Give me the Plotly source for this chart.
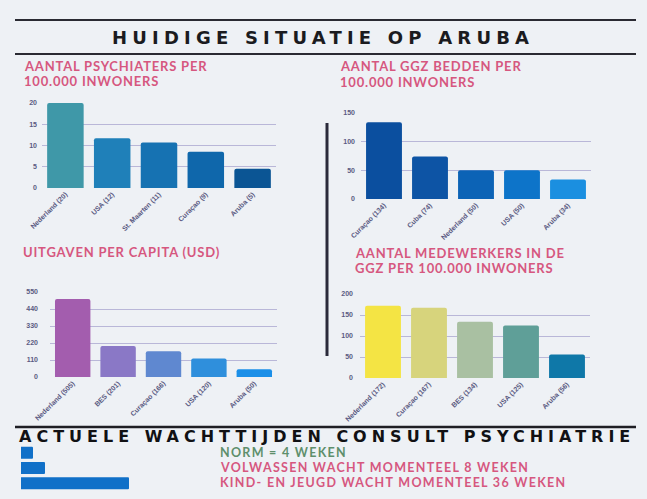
import plotly.graph_objects as go

W, H = 647, 499

# ---------------- data ----------------
psy_labels = ["Nederland (20)", "USA (12)", "St. Maarten (11)", "Curaçao (9)", "Aruba (5)"]
psy_values = [20, 11.7, 10.7, 8.5, 4.5]
psy_colors = ["#3f98a8", "#1f80b9", "#1672b2", "#0f67ab", "#0b5594"]

bed_labels = ["Curaçao (134)", "Cuba (74)", "Nederland (50)", "USA (50)", "Aruba (34)"]
bed_values = [134, 74, 50, 50, 34]
bed_colors = ["#0b4f9f", "#0d54a5", "#0c63b6", "#0d74c9", "#1b8fe0"]

exp_labels = ["Nederland (505)", "BES (201)", "Curaçao (166)", "USA (120)", "Aruba (50)"]
exp_values = [505, 201, 166, 120, 50]
exp_colors = ["#a35dae", "#8a78c6", "#5f88d0", "#2f8fdc", "#1b8fe8"]

staff_labels = ["Nederland (172)", "Curaçao (167)", "BES (134)", "USA (125)", "Aruba (56)"]
staff_values = [172, 167, 134, 125, 56]
staff_colors = ["#f4e444", "#d7d47c", "#a9c0a2", "#5f9f98", "#0f78a8"]

wait_labels = ["NORM = 4 WEKEN", "VOLWASSEN WACHT MOMENTEEL 8 WEKEN", "KIND- EN JEUGD WACHT MOMENTEEL 36 WEKEN"]
wait_weeks = [4, 8, 36]

psy_ticks = [0, 5, 10, 15, 20]
bed_ticks = [0, 50, 100, 150]
exp_ticks = [0, 110, 220, 330, 440, 550]
staff_ticks = [0, 50, 100, 150, 200]

# ---------------- helpers ----------------
def px(x):
    return x / W

def py(y):
    return 1 - y / H

PINK = "#d6577f"
GRID = "#b9b7d8"
TICKC = "#5a5a82"
tickfont = dict(family="Liberation Sans", size=7, color=TICKC, weight="bold")

fig = go.Figure()

panels = [
    (psy_labels, psy_values, psy_colors, psy_ticks, "x", "y"),
    (bed_labels, bed_values, bed_colors, bed_ticks, "x2", "y2"),
    (exp_labels, exp_values, exp_colors, exp_ticks, "x3", "y3"),
    (staff_labels, staff_values, staff_colors, staff_ticks, "x4", "y4"),
]
for labels, vals, cols, ticks, xa, ya in panels:
    fig.add_trace(go.Bar(x=labels, y=vals, marker=dict(color=cols, cornerradius=2, line=dict(width=0)),
                         xaxis=xa, yaxis=ya, showlegend=False, hoverinfo="x+y"))

fig.add_trace(go.Bar(x=wait_weeks, y=wait_labels, orientation="h",
                     marker=dict(color="#1070c8", cornerradius=1, line=dict(width=0)),
                     xaxis="x5", yaxis="y5", showlegend=False))

def xax(d, anchor):
    return dict(domain=d, anchor=anchor, tickangle=-45, tickfont=tickfont, showgrid=False, showline=False,
                zeroline=False, ticks="", fixedrange=True, automargin=False)

def yax(d, ticks, anchor, standoff=4):
    return dict(domain=d, anchor=anchor, range=[0, ticks[-1]], tickvals=ticks,
                ticktext=[str(t) for t in ticks],
                tickfont=tickfont, showgrid=True, gridcolor=GRID, gridwidth=1, zeroline=False,
                showline=False, ticks="", ticklabelstandoff=standoff, fixedrange=True, automargin=False)

layout = dict(
    width=W, height=H, margin=dict(l=0, r=0, t=0, b=0, pad=0), autosize=False,
    paper_bgcolor="#eef1f5", plot_bgcolor="rgba(0,0,0,0)",
    bargap=0.22,
    xaxis=xax([px(42), px(276)], "y"),
    yaxis=yax([py(188), py(103)], psy_ticks, "x", 4),
    xaxis2=xax([px(361), px(591)], "y2"),
    yaxis2=yax([py(199), py(113)], bed_ticks, "x2", 5),
    xaxis3=xax([px(50), px(277)], "y3"),
    yaxis3=yax([py(377), py(292)], exp_ticks, "x3", 11),
    xaxis4=xax([px(360), px(590)], "y4"),
    yaxis4=yax([py(378), py(294)], staff_ticks, "x4", 6),
    xaxis5=dict(domain=[px(21), px(129)], anchor="y5", range=[0, 36], visible=False, fixedrange=True,
                automargin=False),
    yaxis5=dict(domain=[py(491), py(445)], anchor="x5", autorange="reversed", visible=False, fixedrange=True,
                automargin=False),
)
fig.update_layout(**layout)

# ---------------- lines ----------------
shapes = [
    dict(type="line", xref="paper", yref="paper", x0=px(15), x1=px(636), y0=py(20), y1=py(20),
         line=dict(color="#2a2a32", width=2)),
    dict(type="line", xref="paper", yref="paper", x0=px(15), x1=px(636), y0=py(54), y1=py(54),
         line=dict(color="#2a2a32", width=2)),
    dict(type="line", xref="paper", yref="paper", x0=px(15), x1=px(636), y0=py(427), y1=py(427),
         line=dict(color="#1e1e24", width=2.5)),
    dict(type="line", xref="paper", yref="paper", x0=px(327), x1=px(327), y0=py(123), y1=py(356),
         line=dict(color="#2a2a3a", width=3)),
]
fig.update_layout(shapes=shapes)

# ---------------- texts ----------------
ann = []
def txt(x, y, s, size, color, anchor="left", family="Lato", weight="bold", spacing=0.8):
    ann.append(dict(x=px(x), y=py(y), xref="paper", yref="paper",
                    text=f'<span style="letter-spacing:{spacing}px">{s}</span>', showarrow=False,
                    xanchor=anchor, yanchor="middle",
                    font=dict(family=family, size=size, color=color, weight=weight)))

txt(323, 38, "HUIDIGE SITUATIE OP ARUBA", 18, "#1b1b1f", anchor="center", family="DejaVu Sans", spacing=5.2)
txt(327, 436, "ACTUELE WACHTTIJDEN CONSULT PSYCHIATRIE", 16, "#111114", anchor="center",
    family="DejaVu Sans", spacing=5.0)

txt(22, 66, "AANTAL PSYCHIATERS PER", 13, PINK)
txt(22, 81, "100.000 INWONERS", 13, PINK)
txt(338, 66, "AANTAL GGZ BEDDEN PER", 13, PINK)
txt(338, 82, "100.000 INWONERS", 13, PINK)
txt(21, 252, "UITGAVEN PER CAPITA (USD)", 13, PINK)
txt(353, 253, "AANTAL MEDEWERKERS IN DE", 13, PINK)
txt(353, 268, "GGZ PER 100.000 INWONERS", 13, PINK)

txt(218, 452, wait_labels[0], 12.5, "#5e8f6c", spacing=1.3)
txt(218, 467, wait_labels[1], 12.5, PINK, spacing=1.3)
txt(218, 482, wait_labels[2], 12.5, PINK, spacing=1.3)

fig.update_layout(annotations=ann)

fig.write_html("out.html", config={"displayModeBar": False},
               post_script="document.body.style.margin='0';document.body.style.overflow='hidden';")
